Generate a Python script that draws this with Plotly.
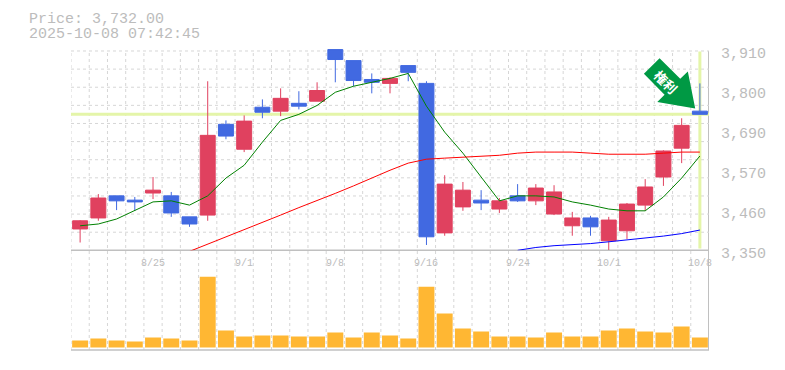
import plotly.graph_objects as go

dates = ["8/19","8/20","8/21","8/22","8/25","8/26","8/27","8/28","8/29","9/1","9/2","9/3","9/4","9/5","9/8","9/9","9/10","9/11","9/12","9/16","9/17","9/18","9/19","9/22","9/24","9/25","9/26","9/29","9/30","10/1","10/2","10/3","10/6","10/7","10/8"]
opens = [3410,3441,3503,3491,3511,3503,3444,3449,3704,3634,3752,3741,3763,3769,3914,3883,3830,3819,3869,3819,3399,3472,3491,3466,3503,3489,3452,3419,3441,3377,3405,3477,3556,3637,3741]
highs = [3435,3508,3503,3500,3556,3514,3444,3825,3715,3729,3774,3805,3797,3822,3914,3883,3847,3836,3869,3825,3561,3542,3519,3497,3536,3536,3533,3458,3447,3444,3483,3550,3631,3721,3819]
lows = [3372,3433,3463,3461,3494,3444,3416,3433,3662,3626,3721,3727,3746,3769,3822,3811,3791,3791,3825,3365,3391,3461,3463,3455,3486,3477,3449,3391,3391,3351,3382,3461,3531,3595,3732]
closes = [3433,3497,3489,3486,3519,3455,3424,3673,3671,3713,3738,3777,3755,3799,3886,3827,3822,3833,3850,3388,3536,3519,3483,3489,3489,3525,3514,3441,3416,3435,3480,3528,3629,3701,3732]
ma_short = [3419,3424,3438,3463,3486,3489,3477,3503,3553,3589,3654,3715,3732,3757,3794,3811,3822,3833,3847,3755,3682,3623,3556,3489,3503,3503,3500,3486,3477,3466,3461,3461,3500,3553,3615]
ma_mid = [None]*6 + [3347,3367,3388,3408,3429,3449,3470,3489,3510,3531,3554,3575,3595,3606,3609,3612,3615,3617,3623,3626,3626,3626,3623,3620,3620,3620,3623,3626,3626]
ma_long = [None]*24 + [3350,3358,3363,3365,3369,3374,3379,3384,3390,3397,3407]
volumes = [70000,90000,70000,60000,100000,90000,70000,710000,170000,110000,120000,120000,110000,110000,150000,100000,150000,120000,90000,610000,340000,190000,160000,110000,110000,100000,150000,110000,110000,170000,190000,160000,150000,210000,100000]
price_ticks = [3910,3798,3686,3574,3462,3350]
price_labels = ["3,910","3,800","3,690","3,570","3,460","3,350"]
date_tick_idx = [4,9,14,19,24,29,34]
current_price = 3732
title_lines = ["Price: 3,732.00","2025-10-08 07:42:45"]
badge = "権利"

W,H = 785,370
L,R,T,B = 70.5,709.5,47.5,350.5
PW,PH = R-L,B-T
xs = list(range(len(dates)))
GRAY = "#c0c0c0"
GRID = "#d6d6d6"
TXT = "#bcbcbc"
UP,DOWN = "#e0415f","#4169e1"
def px(x): return (x-L)/PW
def py(y): return (B-y)/PH

fig = go.Figure()
for vals,col in [(ma_short,"#008000"),(ma_mid,"#ff0000"),(ma_long,"#0000ff")]:
    fig.add_trace(go.Scatter(x=xs,y=vals,mode="lines",line=dict(color=col,width=1),hoverinfo="skip",showlegend=False,yaxis="y",xaxis="x"))
fig.add_trace(go.Candlestick(x=xs,open=opens,high=highs,low=lows,close=closes,whiskerwidth=0,
    increasing=dict(line=dict(color=UP,width=1),fillcolor=UP),
    decreasing=dict(line=dict(color=DOWN,width=1),fillcolor=DOWN),showlegend=False,yaxis="y",xaxis="x"))
fig.add_trace(go.Bar(x=xs,y=volumes,marker=dict(color="#ffb733",line=dict(width=0)),width=0.875,showlegend=False,yaxis="y2",xaxis="x"))

shapes = []
dash = "3px,3px"
for i in range(36):
    xv = i-0.5
    shapes.append(dict(type="line",xref="x",yref="paper",x0=xv,x1=xv,y0=0,y1=py(50.5),layer="below",line=dict(color=GRID if i<35 else GRAY,width=1 if i<35 else 2,dash=dash if i<35 else "solid")))
for j in range(11):
    yv = 50.5+j*200/11
    shapes.append(dict(type="line",xref="paper",yref="paper",x0=0,x1=1,y0=py(yv),y1=py(yv),layer="below",line=dict(color=GRID,width=1,dash=dash)))
shapes.append(dict(type="line",xref="paper",yref="paper",x0=0,x1=1,y0=py(250.5),y1=py(250.5),layer="below",line=dict(color=GRAY,width=1.5)))
shapes.append(dict(type="line",xref="paper",yref="paper",x0=0,x1=1,y0=0,y1=0,layer="below",line=dict(color=GRAY,width=1.5)))
shapes.append(dict(type="line",xref="paper",yref="y",x0=0,x1=1,y0=current_price,y1=current_price,layer="below",line=dict(color="#e4f5a9",width=3)))
shapes.append(dict(type="line",xref="x",yref="paper",x0=34,x1=34,y0=py(248.7),y1=py(51),layer="below",line=dict(color="#e4f5a9",width=3)))
arrow = [(660,57.7),(644.3,73.3),(665,94.3),(657.7,101.7),(695.7,108.3),(688.3,71),(680.7,78.3)]
path = "M "+" L ".join(f"{px(x):.5f} {py(y):.5f}" for x,y in arrow)+" Z"
shapes.append(dict(type="path",xref="paper",yref="paper",path=path,fillcolor="#009944",line=dict(width=0),layer="above"))

ann = []
for k,t in enumerate(title_lines):
    ann.append(dict(text=t,xref="paper",yref="paper",x=px(26.5),y=py(19+14.5*k),xanchor="left",yanchor="middle",showarrow=False,font=dict(family="Liberation Mono",size=15,color=TXT)))
for v,l in zip(price_ticks,price_labels):
    ann.append(dict(text=l,xref="paper",yref="y",x=px(720),y=v,xanchor="left",yanchor="middle",yshift=-4,showarrow=False,font=dict(family="Liberation Mono",size=15,color=TXT)))
for i in date_tick_idx:
    ann.append(dict(text=dates[i],xref="x",yref="paper",x=i,y=py(263.5),xanchor="center",yanchor="middle",showarrow=False,font=dict(family="Liberation Mono",size=10,color=TXT)))
ann.append(dict(text="<b>"+badge+"</b>",xref="paper",yref="paper",x=px(666),y=py(81),xanchor="center",yanchor="middle",showarrow=False,textangle=45,font=dict(family="Noto Sans CJK JP",size=13,color="#ffffff")))

fig.update_layout(width=W,height=H,margin=dict(l=L,r=W-R,t=T,b=H-B,autoexpand=False),paper_bgcolor="#fff",plot_bgcolor="#fff",
    showlegend=False,shapes=shapes,annotations=ann,boxgap=0.18,boxgroupgap=0,barmode="overlay",
    xaxis=dict(range=[-0.5,34.5],showgrid=False,zeroline=False,showticklabels=False,ticks="",rangeslider=dict(visible=False),fixedrange=True),
    yaxis=dict(domain=[py(250.5),1],range=[3350,3350+(250.5-47.5)*2.8],showgrid=False,zeroline=False,showticklabels=False,ticks="",fixedrange=True),
    yaxis2=dict(domain=[0,py(270.5)],range=[-25000,775000],showgrid=False,zeroline=False,showticklabels=False,ticks="",fixedrange=True))
fig.write_html("out.html",config=dict(displayModeBar=False),post_script="document.body.style.margin='0';")
